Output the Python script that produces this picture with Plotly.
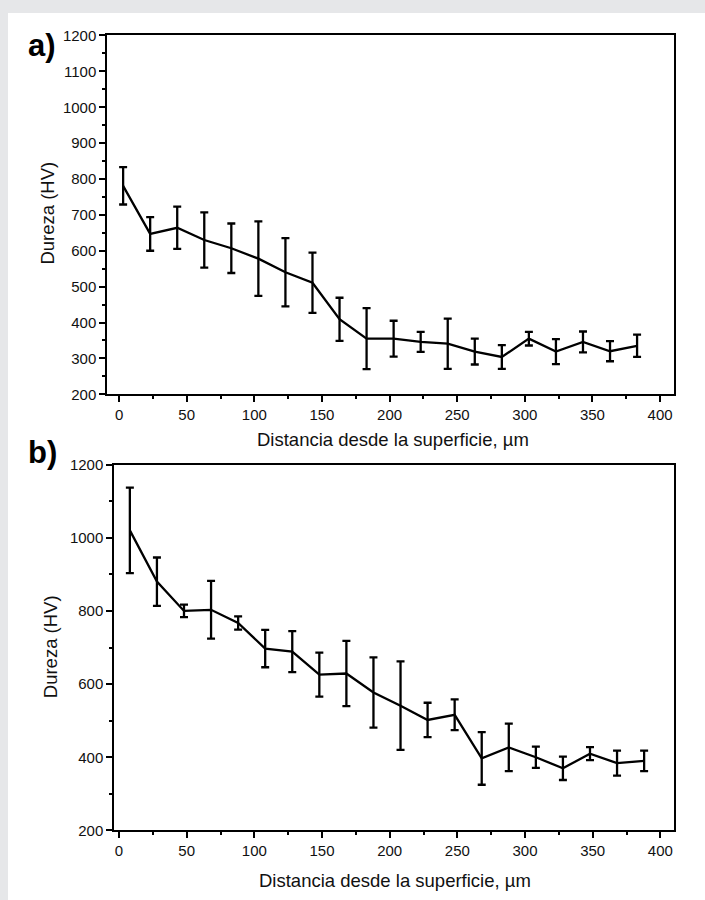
import plotly.graph_objects as go

W, H = 705, 900

# ---- Data: panel a ----
dist_a = [3, 23, 43, 63, 83, 103, 123, 143, 163, 183, 203, 223, 243, 263, 283, 303, 323, 343, 363, 383]
hv_a = [781, 647, 664, 630, 607, 578, 540, 511, 409, 355, 355, 346, 341, 319, 304, 355, 319, 346, 320, 335]
err_a = [52, 47, 59, 77, 69, 104, 95, 84, 60, 85, 50, 28, 70, 36, 33, 19, 35, 29, 28, 31]

# ---- Data: panel b ----
dist_b = [8, 28, 48, 68, 88, 108, 128, 148, 168, 188, 208, 228, 248, 268, 288, 308, 328, 348, 368, 388]
hv_b = [1020, 880, 800, 803, 767, 697, 689, 626, 629, 577, 541, 502, 516, 397, 427, 400, 370, 410, 384, 390]
err_b = [117, 66, 17, 79, 18, 51, 56, 60, 89, 96, 121, 47, 42, 72, 65, 29, 32, 18, 34, 28]

panel_labels = ["a)", "b)"]
x_title = "Distancia desde la superficie, µm"
y_title = "Dureza (HV)"

FONT = "Liberation Sans, Arial, sans-serif"
GRAY = "#e6e7e9"

def px_x(p):
    return p / W

def px_y(p):
    return 1 - p / H

fig = go.Figure()

for xs, ys, es, xa, ya in [(dist_a, hv_a, err_a, "x", "y"), (dist_b, hv_b, err_b, "x2", "y2")]:
    fig.add_trace(go.Scatter(
        x=xs, y=ys, mode="lines", xaxis=xa, yaxis=ya,
        line=dict(color="black", width=2.3),
        error_y=dict(type="data", array=es, visible=True, color="black",
                     thickness=2.3, width=4),
        showlegend=False, hoverinfo="skip",
    ))

axis_common = dict(
    showline=True, linewidth=2, linecolor="black", mirror=True,
    showgrid=False, zeroline=False,
    ticks="outside", ticklen=6, tickwidth=2, tickcolor="black",
    tickfont=dict(family=FONT, size=15, color="#111"),
)

fig.update_layout(
    width=W, height=H, autosize=False,
    margin=dict(l=0, r=0, t=0, b=0, pad=0),
    paper_bgcolor="white",
    plot_bgcolor="white",
    xaxis=dict(domain=[px_x(107.3), px_x(674)], anchor="y", range=[-8.7, 410.3],
               dtick=50, tick0=0,
               minor=dict(dtick=25, ticks="outside", ticklen=3, tickwidth=2, tickcolor="black"),
               **axis_common),
    yaxis=dict(domain=[px_y(392.7), px_y(27)], anchor="x", range=[200, 1200],
               dtick=100, tick0=0,
               minor=dict(dtick=50, ticks="outside", ticklen=3, tickwidth=2, tickcolor="black"),
               **axis_common),
    xaxis2=dict(domain=[px_x(114.3), px_x(674.3)], anchor="y2", range=[-3.5, 410.3],
                dtick=50, tick0=0,
                minor=dict(dtick=25, ticks="outside", ticklen=3, tickwidth=2, tickcolor="black"),
                **axis_common),
    yaxis2=dict(domain=[px_y(837.3), px_y(464.3)], anchor="x2", range=[200, 1200],
                dtick=200, tick0=0,
                minor=dict(dtick=100, ticks="outside", ticklen=3, tickwidth=2, tickcolor="black"),
                **axis_common),
    shapes=[
        dict(type="rect", xref="paper", yref="paper", x0=-0.02, x1=px_x(8), y0=-0.02, y1=1.02,
             fillcolor=GRAY, line=dict(width=0), layer="below"),
        dict(type="rect", xref="paper", yref="paper", x0=-0.02, x1=1.02, y0=px_y(4), y1=1.02,
             fillcolor=GRAY, line=dict(width=0), layer="below"),
    ],
)

title_font = dict(family=FONT, size=18.5, color="#111")
annots = [
    dict(text=panel_labels[0], x=px_x(26), y=px_y(37.5), xanchor="left", yanchor="middle",
         font=dict(family=FONT, size=31, color="black", weight="bold")),
    dict(text=panel_labels[1], x=px_x(26), y=px_y(452), xanchor="left", yanchor="middle",
         font=dict(family=FONT, size=31, color="black", weight="bold")),
    dict(text=x_title, x=px_x(393), y=px_y(438.5), xanchor="center", yanchor="middle", font=title_font),
    dict(text=x_title, x=px_x(395), y=px_y(888.5), xanchor="center", yanchor="middle", font=title_font),
    dict(text=y_title, x=px_x(47.5), y=px_y(208), xanchor="center", yanchor="middle",
         textangle=-90, font=title_font),
    dict(text=y_title, x=px_x(50.5), y=px_y(650), xanchor="center", yanchor="middle",
         textangle=-90, font=title_font),
]
for a in annots:
    a.update(xref="paper", yref="paper", showarrow=False)
fig.update_layout(annotations=annots)

fig.write_html(
    "out.html",
    config={"displayModeBar": False},
    post_script=(
        "document.documentElement.style.cssText='margin:0;padding:0;overflow:hidden;height:900px;background:white;';"
        "document.body.style.cssText='margin:0;padding:0;overflow:hidden;height:900px;background:white;';"
    ),
)
